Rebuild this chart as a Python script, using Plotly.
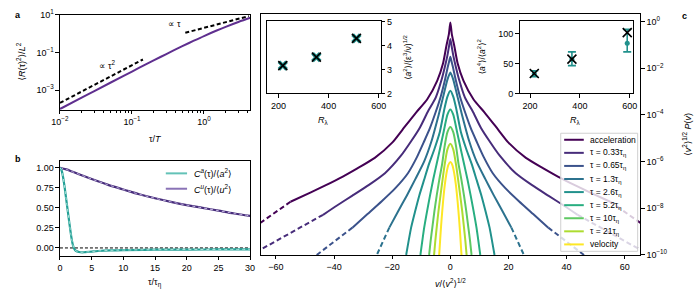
import plotly.graph_objects as go

W, H = 700, 300
FONT = "Liberation Sans, Arial, DejaVu Sans, sans-serif"


def px(X):
    return X / W


def py(Y):
    return 1 - Y / H


# ---------------- panel a : pair dispersion ----------------
tau_T = [0.01, 0.02, 0.03, 0.05, 0.1, 0.2, 0.3, 0.5, 0.7, 1.0, 1.5, 2.0, 3.0, 4.4]
R2 = [9.97e-5, 3.97e-4, 8.9e-4, 2.46e-3, 9.67e-3, 0.0375, 0.0816, 0.213, 0.393,
      0.736, 1.446, 2.27, 4.10, 6.82]
ref_tau2_x = [0.01, 0.142]
ref_tau2_y = [2.1e-4, 0.042]
ref_tau1_x = [0.55, 4.2]
ref_tau1_y = [1.1, 8.4]

# ---------------- panel b : autocorrelations ----------------
tau_a = [0, 0.25, 0.5, 0.75, 1, 1.25, 1.5, 1.75, 2, 2.25, 2.5, 3, 3.5, 4, 5, 6, 8,
         10, 15, 20, 25, 30]
Ca = [1, 0.97, 0.88, 0.75, 0.6, 0.45, 0.3, 0.16, 0.05, -0.01, -0.035, -0.05,
      -0.055, -0.052, -0.045, -0.038, -0.03, -0.026, -0.022, -0.02, -0.019, -0.018]
tau_u = [0, 1, 2, 3, 5, 7.5, 10, 12.5, 15, 17.5, 20, 22.5, 25, 27.5, 30]
Cu = [1.0, 0.98, 0.95, 0.92, 0.86, 0.79, 0.73, 0.67, 0.62, 0.575, 0.535, 0.5,
      0.465, 0.43, 0.40]

# ---------------- panel c : PDFs (log10, shifted), positive half ----------------
acc_v = [0, 0.5, 1.35, 2.5, 4.5, 8, 11.8, 16.5, 20, 26, 32, 37, 43, 48, 55]
acc_logp = [-0.04, -0.54, -1.04, -1.79, -2.53, -3.34, -3.9, -4.64, -5.19, -5.84,
            -6.29, -6.64, -7.02, -7.32, -7.72]
acc_tail_v = [55, 60, 66]
acc_tail_logp = [-7.72, -8.15, -8.68]

t033_v = [0, 0.5, 1, 2, 3.1, 5, 7.9, 10.5, 13.5, 17, 22.5, 28, 33.7, 39, 43.8]
t033_logp = [-0.75, -1.1, -1.45, -2.0, -2.53, -3.25, -3.9, -4.55, -5.13, -5.75,
             -6.5, -7.0, -7.46, -7.88, -8.28]
t033_tail_v = [43.8, 55, 66]
t033_tail_logp = [-8.28, -9.05, -9.82]

t065_v = [0, 0.5, 1, 1.9, 3.3, 5.1, 7, 9, 11.5, 14.6, 19, 23.6, 28.5, 33.7]
t065_logp = [-1.51, -1.76, -2.01, -2.53, -3.21, -3.9, -4.56, -5.13, -5.81, -6.5,
             -7.15, -7.7, -8.25, -8.83]
t065_tail_v = [33.7, 40, 46.5]
t065_tail_logp = [-8.83, -9.42, -10.05]

t13_v = [0, 1, 2.5, 4, 6.5, 9, 12, 15, 18, 21]
t13_logp = [-2.19, -2.49, -3.24, -3.99, -5.13, -5.99, -6.74, -7.46, -8.14, -8.83]
t13_tail_v = [21, 25.5]
t13_tail_logp = [-8.83, -10.05]

t26_v = [0, 1, 2, 3.6, 5.5, 7.3, 9, 10.7, 12.2, 13.5, 15.2]
t26_logp = [-2.97, -3.22, -3.72, -4.72, -5.47, -6.09, -6.77, -7.46, -8.17, -8.83, -10.0]

t52_v = [0, 1, 2.3, 3.5, 4.7, 5.9, 7.0, 8.0, 9.0, 10.3]
t52_logp = [-3.77, -3.99, -4.72, -5.42, -6.09, -6.77, -7.46, -8.12, -8.83, -10.0]

t10_v = [0, 1, 2, 2.8, 3.8, 4.7, 5.5, 6.2, 6.8, 7.3]
t10_logp = [-4.52, -4.74, -5.37, -6.09, -6.77, -7.46, -8.14, -8.83, -9.42, -10.0]

t21_v = [0, 1, 1.9, 2.7, 3.4, 4.1, 4.7, 5.2, 5.6]
t21_logp = [-5.24, -5.48, -6.09, -6.79, -7.46, -8.14, -8.83, -9.44, -10.0]

vel_v = [0, 0.7, 1.3, 1.9, 2.5, 3.0, 3.4, 3.85]
vel_logp = [-6.02, -6.15, -6.48, -6.99, -7.71, -8.45, -9.14, -10.02]

pdf_labels = ["acceleration", "τ = 0.33τ<sub>η</sub>", "τ = 0.65τ<sub>η</sub>",
              "τ = 1.3τ<sub>η</sub>", "τ = 2.6τ<sub>η</sub>", "τ = 5.2τ<sub>η</sub>",
              "τ = 10τ<sub>η</sub>", "τ = 21τ<sub>η</sub>", "velocity"]
pdf_colors = ["#440154", "#472c7a", "#3b528b", "#2c728e", "#21918c", "#28ae80",
              "#5ec962", "#addc30", "#fde725"]

# ---------------- insets ----------------
inset1_R = [217, 351, 511]
inset1_a2 = [3.16, 3.51, 4.29]
inset2_R = [217, 368, 590]
inset2_flat = [33.2, 57.3, 101.6]
inset2_teal = [33.0, 57.0, 84.0]
inset2_err_plus = [5, 12.5, 23]
inset2_err_minus = [5, 10.5, 14.5]
TEAL = "#21918c"


def mirror(v, lp):
    xs = [-a for a in reversed(v)] + list(v[1:])
    ys = [10 ** b for b in reversed(lp)] + [10 ** b for b in lp[1:]]
    return xs, ys


def mirror_tail(v, lp):
    return ([-a for a in v], [10 ** b for b in lp]), (list(v), [10 ** b for b in lp])


fig = go.Figure()

# panel a
fig.add_trace(go.Scatter(x=ref_tau2_x, y=ref_tau2_y, mode="lines", xaxis="x", yaxis="y",
                         line=dict(color="black", width=2, dash="4px,2.5px"), showlegend=False))
fig.add_trace(go.Scatter(x=ref_tau1_x, y=ref_tau1_y, mode="lines", xaxis="x", yaxis="y",
                         line=dict(color="black", width=2, dash="4px,2.5px"), showlegend=False))
fig.add_trace(go.Scatter(x=tau_T, y=R2, mode="lines", xaxis="x", yaxis="y",
                         line=dict(color="#5f2f8f", width=2, shape="spline"), showlegend=False))

# panel b
fig.add_trace(go.Scatter(x=[0, 30], y=[0, 0], mode="lines", xaxis="x2", yaxis="y2",
                         line=dict(color="black", width=1, dash="3px,2px"), showlegend=False))
fig.add_trace(go.Scatter(x=tau_u, y=Cu, mode="lines", xaxis="x2", yaxis="y2",
                         line=dict(color="#472d7b", width=2.2, shape="spline"), showlegend=False))
fig.add_trace(go.Scatter(x=tau_u, y=Cu, mode="lines", xaxis="x2", yaxis="y2",
                         line=dict(color="#c2b3e0", width=1, dash="3px,3px", shape="spline"),
                         showlegend=False))
fig.add_trace(go.Scatter(x=tau_a, y=Ca, mode="lines", xaxis="x2", yaxis="y2",
                         line=dict(color="#24a096", width=2.2, shape="spline"), showlegend=False))
fig.add_trace(go.Scatter(x=tau_a, y=Ca, mode="lines", xaxis="x2", yaxis="y2",
                         line=dict(color="#a9e2da", width=1, dash="3px,3px", shape="spline"),
                         showlegend=False))

# panel c
curves = [(acc_v, acc_logp, acc_tail_v, acc_tail_logp),
          (t033_v, t033_logp, t033_tail_v, t033_tail_logp),
          (t065_v, t065_logp, t065_tail_v, t065_tail_logp),
          (t13_v, t13_logp, t13_tail_v, t13_tail_logp),
          (t26_v, t26_logp, None, None),
          (t52_v, t52_logp, None, None),
          (t10_v, t10_logp, None, None),
          (t21_v, t21_logp, None, None),
          (vel_v, vel_logp, None, None)]
for (v, lp, tv, tlp), col, lab in zip(curves, pdf_colors, pdf_labels):
    if tv is not None:
        for xs, ys in mirror_tail(tv, tlp):
            fig.add_trace(go.Scatter(x=xs, y=ys, mode="lines", xaxis="x3", yaxis="y3",
                                     line=dict(color=col, width=2, dash="5px,3px"),
                                     showlegend=False, hoverinfo="skip"))
    xs, ys = mirror(v, lp)
    fig.add_trace(go.Scatter(x=xs, y=ys, mode="lines", xaxis="x3", yaxis="y3", name=lab,
                             line=dict(color=col, width=2, shape="spline", smoothing=0.6),
                             showlegend=False))

# inset 1
fig.add_trace(go.Scatter(x=inset1_R, y=inset1_a2, mode="markers", xaxis="x4", yaxis="y4",
                         marker=dict(symbol="x", size=9, color=TEAL), showlegend=False))
fig.add_trace(go.Scatter(x=inset1_R, y=inset1_a2, mode="markers", xaxis="x4", yaxis="y4",
                         marker=dict(symbol="x-thin", size=9, line=dict(width=1.6, color="black")),
                         showlegend=False))
# inset 2
fig.add_trace(go.Scatter(x=inset2_R, y=inset2_teal, mode="markers", xaxis="x5", yaxis="y5",
                         marker=dict(symbol="circle", size=5, color=TEAL),
                         error_y=dict(type="data", array=inset2_err_plus,
                                      arrayminus=inset2_err_minus, color=TEAL,
                                      thickness=1.6, width=4),
                         showlegend=False))
fig.add_trace(go.Scatter(x=inset2_R, y=inset2_flat, mode="markers", xaxis="x5", yaxis="y5",
                         marker=dict(symbol="x-thin", size=9, line=dict(width=1.6, color="black")),
                         showlegend=False))

tickfont = dict(size=9, color="black", family=FONT)
base = dict(showline=True, linecolor="black", linewidth=1, mirror=True, ticks="outside",
            ticklen=3.5, tickwidth=1, tickcolor="black", showgrid=False, zeroline=False,
            tickfont=tickfont)


def sup(e):
    return "10<sup>%s</sup>" % (str(e).replace("-", "−"))


minor_a = [m * 10 ** k for k in (-2, -1, 0) for m in range(2, 10) if m * 10 ** k < 4.4]

fig.update_layout(
    width=W, height=H, margin=dict(l=0, r=0, t=0, b=0),
    paper_bgcolor="white", plot_bgcolor="white",
    font=dict(family=FONT, size=9, color="black"),
    showlegend=False,
    xaxis=dict(base, domain=[px(52), px(246)], type="log", range=[-2, 0.64], anchor="y",
               tickvals=[0.01, 0.1, 1], ticktext=[sup(-2), sup(-1), sup(0)],
               minor=dict(tickvals=minor_a, ticks="outside", ticklen=2, tickcolor="black")),
    yaxis=dict(base, domain=[py(107), py(8)], type="log", range=[-4.04, 1.0], anchor="x",
               tickvals=[1e-3, 1e-1, 10], ticktext=[sup(-3), sup(-1), sup(1)]),
    xaxis2=dict(base, domain=[px(52), px(246)], range=[0, 30], anchor="y2",
                tickvals=[0, 5, 10, 15, 20, 25, 30]),
    yaxis2=dict(base, domain=[py(259), py(160)], range=[-0.096, 1.09], anchor="x2",
                tickvals=[0, 0.25, 0.5, 0.75, 1.0],
                ticktext=["0.00", "0.25", "0.50", "0.75", "1.00"]),
    xaxis3=dict(base, domain=[px(256.7), px(644)], range=[-65.3, 65.3], anchor="y3",
                tickvals=[-60, -40, -20, 0, 20, 40, 60]),
    yaxis3=dict(base, domain=[py(258.3), py(7.3)], type="log", range=[-10, 0.32],
                anchor="x3", side="right",
                tickvals=[1, 1e-2, 1e-4, 1e-6, 1e-8, 1e-10],
                ticktext=[sup(0), sup(-2), sup(-4), sup(-6), sup(-8), sup(-10)]),
    xaxis4=dict(base, domain=[px(263.3), px(379.3)], range=[154, 608], anchor="y4",
                tickvals=[200, 400, 600]),
    yaxis4=dict(base, domain=[py(90), py(15)], range=[2, 5], anchor="x4", side="right",
                tickvals=[2, 3, 4, 5]),
    xaxis5=dict(base, domain=[px(521), px(636.7)], range=[158, 613], anchor="y5",
                tickvals=[200, 400, 600]),
    yaxis5=dict(base, domain=[py(90), py(15)], range=[0, 120.4], anchor="x5",
                tickvals=[0, 50, 100]),
)

ann = []


def text(X, Y, s, size=9, angle=0, xanchor="center", bold=False):
    ann.append(dict(x=px(X), y=py(Y), xref="paper", yref="paper", text=("<b>%s</b>" % s) if bold else s,
                    showarrow=False, textangle=angle, xanchor=xanchor, yanchor="middle",
                    font=dict(size=size, color="black", family=FONT)))


text(9, 8, "a", size=9, bold=True)
text(9, 158, "b", size=9, bold=True)
text(689, 9, "c", size=9, bold=True)
text(12, 57, "⟨<i>R</i>(τ)<sup>2</sup>⟩/<i>L</i><sup>2</sup>", size=9, angle=-90)
text(149, 138, "τ/<i>T</i>", size=9)
text(101, 60, "∝ τ<sup>2</sup>", size=9)
text(169, 18, "∝ τ", size=9)
text(149, 287, "τ/τ<sub>η</sub>", size=9)
text(450, 287, "<i>v</i>/⟨<i>v</i><sup>2</sup>⟩<sup>1/2</sup>", size=9)
text(692, 133, "⟨<i>v</i><sup>2</sup>⟩<sup>1/2</sup> <i>P</i>(<i>v</i>)", size=9, angle=-90)
text(407, 52, "⟨<i>a</i><sup>2</sup>⟩/(ε<sup>3</sup>/ν)<sup>1/2</sup>", size=8.5, angle=-90)
text(321, 118, "<i>R</i><sub>λ</sub>", size=9)
text(483, 52, "⟨<i>a</i><sup>4</sup>⟩/⟨<i>a</i><sup>2</sup>⟩<sup>2</sup>", size=8.5, angle=-90)
text(578, 118, "<i>R</i><sub>λ</sub>", size=9)

shapes = []
# legend of panel b
leg_b = [("#63c2b7", "<i>C<sup>a</sup></i>(τ)/⟨<i>a</i><sup>2</sup>⟩", 173.3),
         ("#8a73b6", "<i>C<sup>u</sup></i>(τ)/⟨<i>u</i><sup>2</sup>⟩", 189.3)]
for col, lab, Y in leg_b:
    shapes.append(dict(type="line", xref="paper", yref="paper", x0=px(160), x1=px(181.7),
                       y0=py(Y), y1=py(Y), line=dict(color=col, width=2)))
    text(186.5, Y, lab, size=9, xanchor="left")

# legend of panel c
shapes.append(dict(type="rect", xref="paper", yref="paper", x0=px(563), x1=px(641.5),
                   y0=py(254.5), y1=py(131.5), fillcolor="rgba(255,255,255,0.8)",
                   line=dict(color="#d0d0d0", width=1), layer="above"))
for i, (col, lab) in enumerate(zip(pdf_colors, pdf_labels)):
    Y = 138.3 + i * 13.625
    shapes.append(dict(type="line", xref="paper", yref="paper", x0=px(566.5), x1=px(586.5),
                       y0=py(Y), y1=py(Y), line=dict(color=col, width=2)))
    text(590.5, Y, lab, size=8.5, xanchor="left")

fig.update_layout(annotations=ann, shapes=shapes)
fig.write_html("out.html", config={"displayModeBar": False},
               post_script="document.body.style.margin='0px';"
                           "document.body.style.overflow='hidden';")
